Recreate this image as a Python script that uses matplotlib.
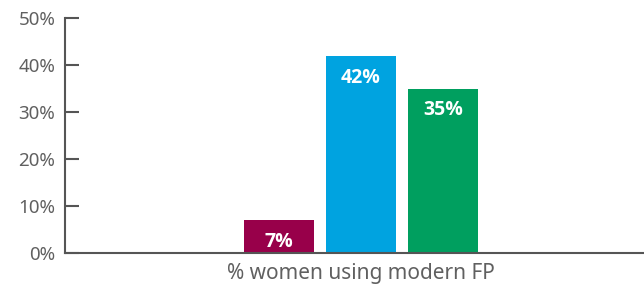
import matplotlib
matplotlib.use("Agg")
import matplotlib.pyplot as plt

groups = ["% women using modern FP"]
series = ["s1", "s2", "s3"]
values = [7, 42, 35]
labels = ["7%", "42%", "35%"]
colors = ["#98004a", "#00a3e0", "#009f5f"]
yticks = [0, 10, 20, 30, 40, 50]
ytick_labels = ["0%", "10%", "20%", "30%", "40%", "50%"]

plt.rcParams["font.family"] = ["Noto Sans", "DejaVu Sans"]

fig = plt.figure(figsize=(6.44, 2.84), dpi=100)
ax = fig.add_axes([0.101, 0.109, 0.897, 0.826])

width = 0.854
offsets = [-1, 0, 1]
for off, val, lab, col in zip(offsets, values, labels, colors):
    ax.bar(off, val, width=width, color=col)
    ax.annotate(lab, (off, val), xytext=(0, -15.5), textcoords="offset points",
                ha="center", va="center", color="white", fontsize=14,
                fontweight="bold", family=["Open Sans", "DejaVu Sans"])

ax.set_xlim(-3.61, 3.44)
ax.set_ylim(0, 50)
ax.set_yticks(yticks)
ax.set_yticklabels(ytick_labels)
ax.set_xticks([0])
ax.set_xticklabels(groups)

for s in ["top", "right"]:
    ax.spines[s].set_visible(False)
for s in ["left", "bottom"]:
    ax.spines[s].set_color("#555555")
    ax.spines[s].set_linewidth(1.5)

ax.tick_params(axis="y", direction="in", length=10, width=1.5, color="#555555",
               labelcolor="#606060", labelsize=13.5, pad=7)
ax.tick_params(axis="x", length=0, labelcolor="#606060", labelsize=15, pad=7)

fig.savefig("out.png", dpi=100)
